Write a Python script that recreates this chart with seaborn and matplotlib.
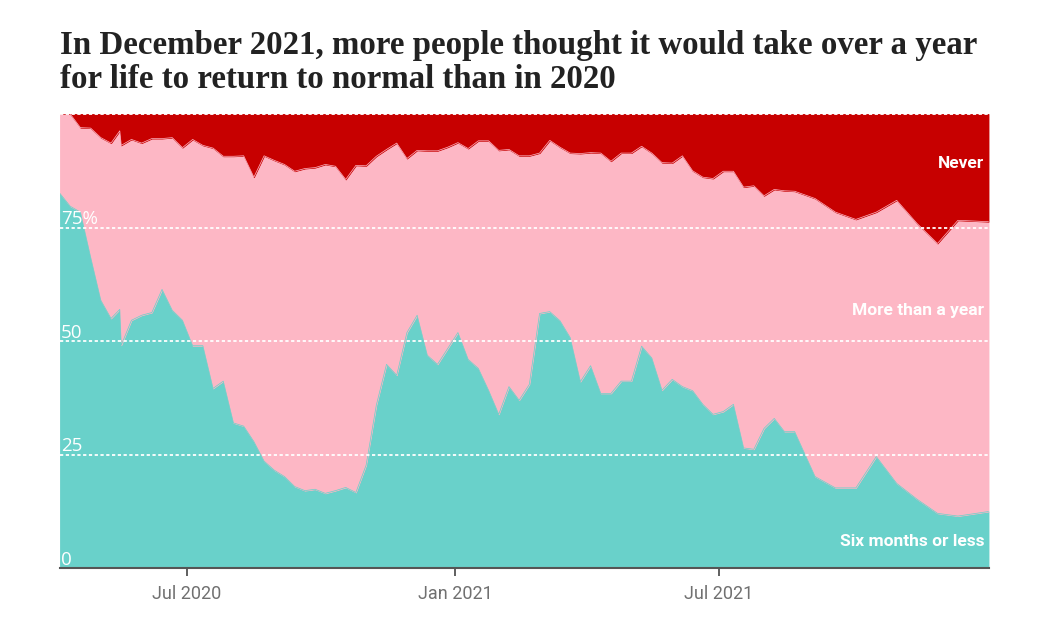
import matplotlib
matplotlib.use("Agg")
import matplotlib.pyplot as plt
import seaborn as sns
import pandas as pd

# ---------------- data (percent of respondents) ----------------
dates = [
    "2020-04-05", "2020-04-12", "2020-04-19", "2020-04-26", "2020-05-03", "2020-05-10",
    "2020-05-16", "2020-05-17", "2020-05-24", "2020-05-31", "2020-06-07", "2020-06-14",
    "2020-06-21", "2020-06-28", "2020-07-05", "2020-07-12", "2020-07-19", "2020-07-26",
    "2020-08-02", "2020-08-09", "2020-08-16", "2020-08-23", "2020-08-30", "2020-09-06",
    "2020-09-13", "2020-09-20", "2020-09-27", "2020-10-04", "2020-10-11", "2020-10-18",
    "2020-10-25", "2020-11-01", "2020-11-08", "2020-11-15", "2020-11-22", "2020-11-29",
    "2020-12-06", "2020-12-13", "2020-12-20", "2020-12-27", "2021-01-03", "2021-01-10",
    "2021-01-17", "2021-01-24", "2021-01-31", "2021-02-07", "2021-02-14", "2021-02-21",
    "2021-02-28", "2021-03-07", "2021-03-14", "2021-03-21", "2021-03-28", "2021-04-04",
    "2021-04-11", "2021-04-18", "2021-04-25", "2021-05-02", "2021-05-09", "2021-05-16",
    "2021-05-23", "2021-05-30", "2021-06-06", "2021-06-13", "2021-06-20", "2021-06-27",
    "2021-07-04", "2021-07-11", "2021-07-18", "2021-07-25", "2021-08-01", "2021-08-08",
    "2021-08-15", "2021-08-22", "2021-09-05", "2021-09-19", "2021-10-03", "2021-10-17",
    "2021-10-31", "2021-11-14", "2021-11-28", "2021-12-12", "2022-01-02",
]

six_months_or_less = [
    82.5, 79.7, 78.4, 68.5, 59.0, 55.0,
    57.0, 49.1, 54.6, 55.7, 56.3, 61.4,
    56.8, 54.6, 49.0, 49.0, 39.6, 41.2,
    32.0, 31.3, 27.9, 23.6, 21.6, 20.2,
    18.0, 17.1, 17.4, 16.5, 17.1, 17.8,
    16.7, 22.7, 35.9, 44.9, 42.5, 51.9,
    55.7, 46.9, 44.9, 48.4, 51.9, 46.0,
    44.0, 39.2, 33.9, 40.0, 37.0, 40.5,
    56.1, 56.5, 54.5, 50.8, 41.1, 44.6,
    38.5, 38.5, 41.2, 41.2, 48.9, 46.3,
    39.2, 41.6, 40.0, 39.1, 36.1, 33.9,
    34.5, 36.1, 26.5, 26.2, 30.8, 33.0,
    30.1, 30.1, 20.2, 17.7, 17.7, 24.6,
    18.7, 15.2, 12.1, 11.5, 12.5,
]

more_than_a_year = [
    17.5, 20.3, 18.6, 28.4, 35.8, 38.6,
    39.3, 44.0, 39.8, 37.9, 38.3, 33.2,
    38.0, 38.0, 45.4, 44.1, 52.9, 49.5,
    58.7, 59.5, 58.2, 67.2, 68.2, 68.7,
    69.4, 70.9, 70.8, 72.4, 71.4, 67.8,
    72.0, 65.9, 54.8, 47.3, 51.1, 38.3,
    36.3, 45.0, 47.0, 44.3, 41.8, 46.4,
    50.1, 54.9, 58.1, 52.2, 53.8, 50.3,
    35.3, 37.7, 38.2, 40.6, 50.2, 46.9,
    52.9, 51.1, 50.2, 50.2, 44.0, 45.1,
    50.1, 47.6, 50.8, 48.4, 50.0, 51.9,
    52.9, 51.3, 57.4, 58.0, 51.2, 50.4,
    53.0, 52.9, 61.2, 60.7, 59.1, 53.8,
    62.3, 60.7, 59.4, 65.1, 63.8,
]

never = [
    0.0, 0.0, 3.0, 3.1, 5.2, 6.4,
    3.7, 6.9, 5.6, 6.4, 5.4, 5.4,
    5.2, 7.4, 5.6, 6.9, 7.5, 9.3,
    9.3, 9.2, 13.9, 9.2, 10.2, 11.1,
    12.6, 12.0, 11.8, 11.1, 11.5, 14.4,
    11.3, 11.4, 9.3, 7.8, 6.4, 9.8,
    8.0, 8.1, 8.1, 7.3, 6.3, 7.6,
    5.9, 5.9, 8.0, 7.8, 9.2, 9.2,
    8.6, 5.8, 7.3, 8.6, 8.7, 8.5,
    8.6, 10.4, 8.6, 8.6, 7.1, 8.6,
    10.7, 10.8, 9.2, 12.5, 13.9, 14.2,
    12.6, 12.6, 16.1, 15.8, 18.0, 16.6,
    16.9, 17.0, 18.6, 21.6, 23.2, 21.6,
    19.0, 24.1, 28.5, 23.4, 23.7,
]

series_labels = ["Six months or less", "More than a year", "Never"]
tick_dates = ["2020-07-01", "2021-01-01", "2021-07-01"]
tick_labels = ["Jul 2020", "Jan 2021", "Jul 2021"]
y_ticks = [0, 25, 50, 75]
y_tick_labels = ["0", "25", "50", "75%"]

title_line1 = "In December 2021, more people thought it would take over a year"
title_line2 = "for life to return to normal than in 2020"

# ---------------- styling ----------------
TEAL = "#69d1ca"
PINK = "#fdb7c5"
RED = "#c70000"

sns.set_theme(style="white")
plt.rcParams["font.family"] = ["Open Sans", "DejaVu Sans"]

df = pd.DataFrame({
    "date": pd.to_datetime(dates),
    series_labels[0]: six_months_or_less,
    series_labels[1]: more_than_a_year,
    series_labels[2]: never,
})
df["b1"] = df[series_labels[0]]
df["b2"] = df["b1"] + df[series_labels[1]]
df["b3"] = df["b2"] + df[series_labels[2]]

W, H = 1050, 630
fig = plt.figure(figsize=(W / 100, H / 100), dpi=100)
fig.patch.set_facecolor("white")
ax = fig.add_axes([60 / W, (H - 568.3) / H, (988.5 - 60) / W, (568.3 - 114) / H])
ax.set_facecolor("white")

# stacked areas
ax.fill_between(df["date"], 0, df["b1"], color=TEAL, lw=0.6, edgecolor=TEAL, zorder=1)
ax.fill_between(df["date"], df["b1"], df["b2"], color=PINK, lw=0.6, edgecolor=PINK, zorder=1)
ax.fill_between(df["date"], df["b2"], df["b3"], color=RED, lw=0.6, edgecolor=RED, zorder=1)
sns.lineplot(data=df, x="date", y="b1", ax=ax, color=TEAL, lw=0.5, zorder=1.5)
sns.lineplot(data=df, x="date", y="b2", ax=ax, color=PINK, lw=0.5, zorder=1.5)

ax.set_xlim(df["date"].iloc[0], df["date"].iloc[-1])
ax.set_ylim(0, 100)

# dashed white gridlines
for v in [25, 50, 75, 100]:
    ax.axhline(v, color="white", lw=1.3, ls=(0, (1.8, 1.4)), zorder=3, clip_on=False)

# y labels inside plot
for v, lab in zip(y_ticks, y_tick_labels):
    ax.text(0.0012, v + 0.8, lab, transform=ax.get_yaxis_transform(), color="white",
            fontsize=13.5, fontweight="normal", ha="left", va="baseline", zorder=4,
            family=["Open Sans", "DejaVu Sans"])

# series labels
label_pos = {series_labels[2]: 88.1, series_labels[1]: 55.7, series_labels[0]: 4.9}
for lab, yv in label_pos.items():
    ax.text(0.9955, yv, lab, transform=ax.get_yaxis_transform(), color="white",
            fontsize=12.5, fontweight="bold", ha="right", va="baseline", zorder=4,
            family=["Roboto", "DejaVu Sans"])

ax.set_yticks([])
ax.set_ylabel("")
ax.set_xlabel("")
ax.set_xticks(pd.to_datetime(tick_dates))
ax.set_xticklabels(tick_labels, color="#707070", fontsize=13,
                   family=["Roboto", "DejaVu Sans"])
ax.tick_params(axis="x", which="major", bottom=True, direction="out", length=6,
               width=1.2, color="#444444", pad=6)
for s in ["top", "left", "right"]:
    ax.spines[s].set_visible(False)
ax.spines["bottom"].set_color("#555555")
ax.spines["bottom"].set_linewidth(1.5)
ax.spines["bottom"].set_zorder(5)

# title
for txt, base in [(title_line1, 54), (title_line2, 87.5)]:
    fig.text(60 / W, 1 - base / H, txt, fontsize=23.7, fontweight="bold", color="#222222",
             ha="left", va="baseline", family=["Liberation Serif", "DejaVu Serif"])

fig.savefig("out.png", dpi=100)
